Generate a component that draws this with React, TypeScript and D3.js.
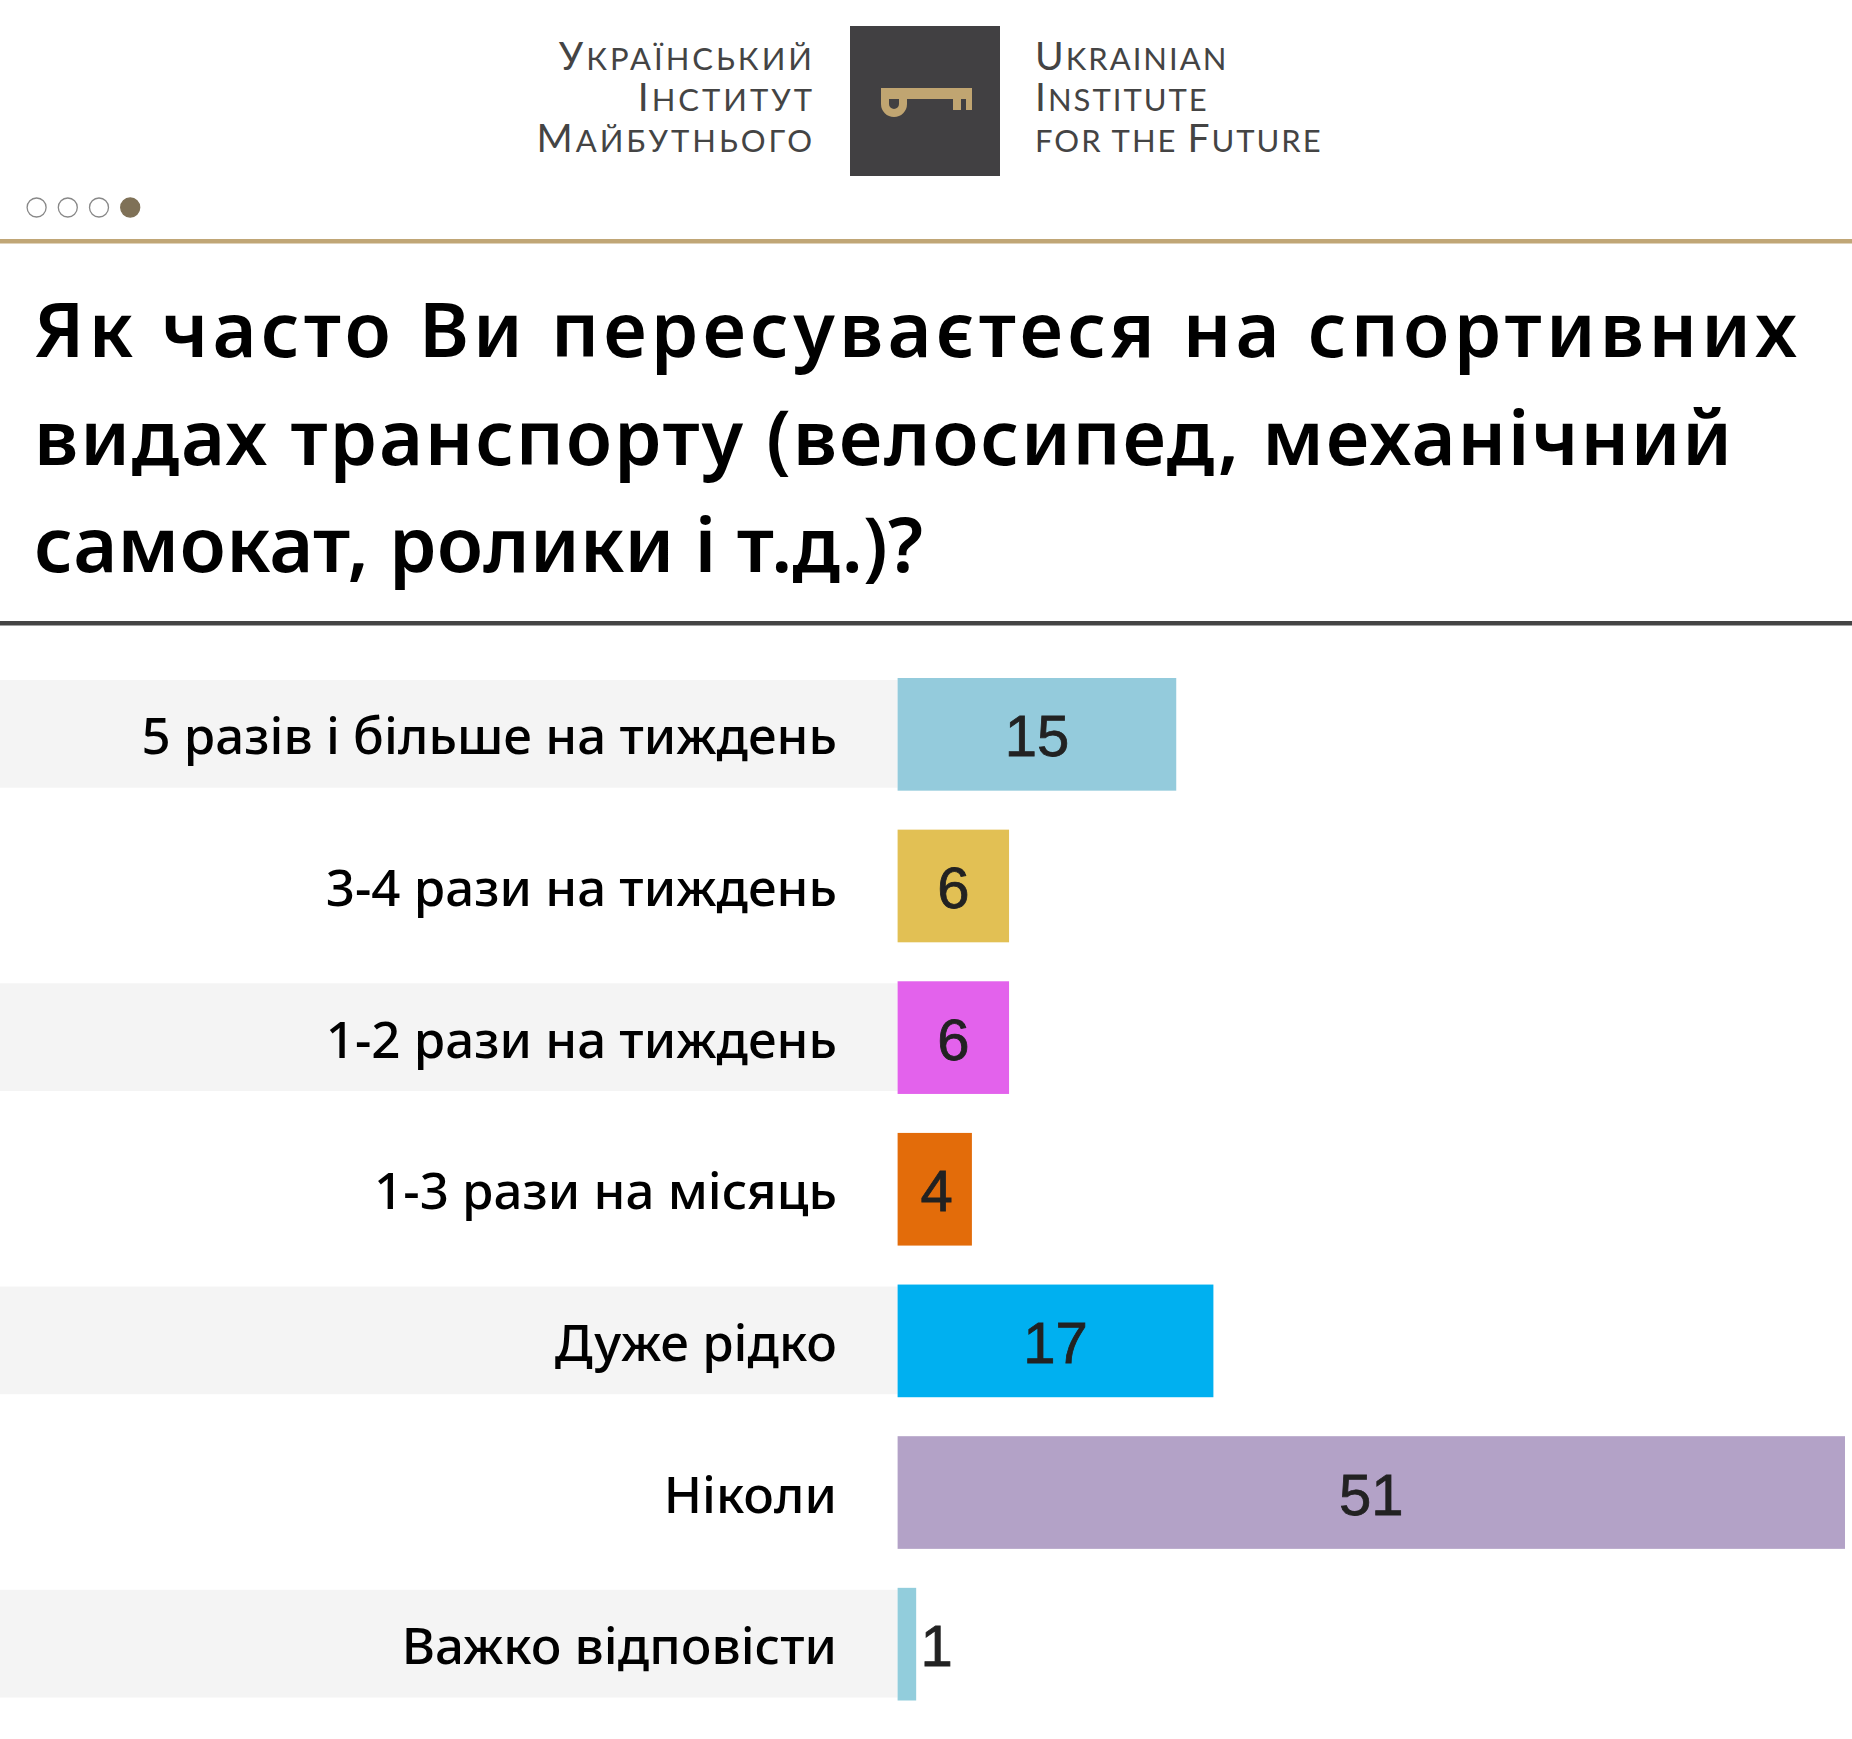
import React from 'react';
import * as d3 from 'd3';

// survey answers, percent
const categories = [
  '5 разів і більше на тиждень',
  '3-4 рази на тиждень',
  '1-2 рази на тиждень',
  '1-3 рази на місяць',
  'Дуже рідко',
  'Ніколи',
  'Важко відповісти',
];
const values = [15, 6, 6, 4, 17, 51, 1];
const barColors = ['#94cbdc', '#e2c054', '#e362ec', '#e36c0a', '#00b0f0', '#b3a2c7', '#92cddc'];

const titleLines = [
  'Як часто Ви пересуваєтеся на спортивних',
  'видах транспорту (велосипед, механічний',
  'самокат, ролики і т.д.)?',
];
// rendered width of each title line in the original
const titleWidths = [1763, 1698, 889];

// logo words: [capital, small caps rest]
const logoLeft = [
  [['У', 'країнський']],
  [['І', 'нститут']],
  [['М', 'айбутнього']],
];
const logoRight = [
  [['U', 'krainian']],
  [['I', 'nstitute']],
  [['', 'for the '], ['F', 'uture']],
];

const W = 1852;
const H = 1739;

export default function App() {
  const y = d3.scaleBand<string>()
    .domain(categories)
    .range([678, 1700.5])
    .paddingInner(0.257)
    .paddingOuter(0);

  const x = d3.scaleLinear().domain([0, 51]).range([897.6, 1845]);

  const logoLine = (parts: string[][], key: number, anchor: 'start' | 'end', lx: number, ly: number, ls: number) => (
    <text key={key} x={lx} y={ly} textAnchor={anchor} fontFamily="Lato, 'Open Sans', sans-serif" fill="#444" letterSpacing={ls}>
      {parts.map((p, i) => (
        <React.Fragment key={i}>
          {p[0] && <tspan fontSize={39}>{p[0]}</tspan>}
          <tspan fontSize={31}>{p[1].toUpperCase()}</tspan>
        </React.Fragment>
      ))}
    </text>
  );

  const logoY = [70, 111, 152];

  return (
    <svg width={W} height={H} style={{ position: 'absolute', left: 0, top: 0, background: '#fff' }}>
      <rect x={0} y={0} width={W} height={H} fill="#fff" />

      {/* logo */}
      {logoLeft.map((l, i) => logoLine(l, i, 'end', 815, logoY[i], 3))}
      {logoRight.map((l, i) => logoLine(l, i + 10, 'start', 1035, logoY[i], 2))}
      <rect x={850} y={26} width={150} height={150} fill="#414042" />
      <g fill="#c0a571">
        <path d="M881,88 H972 V110 H966 V99 H961 V110 H953 V99 H907 V104 A13,13 0 0 1 881,104 Z M889,99 V104 A5,5 0 0 0 899,104 V99 Z" fillRule="evenodd" />
      </g>

      {/* slide dots */}
      {[0, 1, 2, 3].map((i) => (
        <circle key={i} cx={36.6 + i * 31.2} cy={207.5} r={9.5}
          fill={i === 3 ? '#7f7157' : '#fff'} stroke={i === 3 ? '#7f7157' : '#888'} strokeWidth={1.3} />
      ))}

      <rect x={0} y={239} width={W} height={4.5} fill="#c0a676" />

      {/* title */}
      {titleLines.map((t, i) => (
        <text key={i} x={34} y={357 + i * 107.5} textLength={titleWidths[i]} lengthAdjust="spacing"
          fontFamily="'Noto Sans', sans-serif" fontWeight={600} fontSize={76} fill="#000">{t}</text>
      ))}

      <rect x={0} y={621} width={W} height={4.5} fill="#444" />

      {/* rows */}
      {categories.map((c, i) => {
        const y0 = y(c) ?? 0;
        const bw = y.bandwidth();
        const cy = y0 + bw / 2;
        const x0 = x(0);
        const x1 = x(values[i]);
        const lx = Math.max((x0 + x1) / 2, x0 + 39);
        return (
          <g key={c}>
            {i % 2 === 0 && <rect x={0} y={y0 + 2} width={x0} height={bw - 5} fill="#f4f4f4" />}
            <rect x={x0} y={y0} width={x1 - x0} height={bw} fill={barColors[i]} />
            <text x={837} y={cy + 20} textAnchor="end" fontFamily="'Noto Sans', sans-serif" fontWeight={500} fontSize={51} fill="#000">{c}</text>
            <text x={lx} y={cy + 22} textAnchor="middle" fontFamily="'Liberation Sans', Arial, sans-serif" fontSize={58} stroke="#222" strokeWidth={0.8} fill="#222">{values[i]}</text>
          </g>
        );
      })}
    </svg>
  );
}
